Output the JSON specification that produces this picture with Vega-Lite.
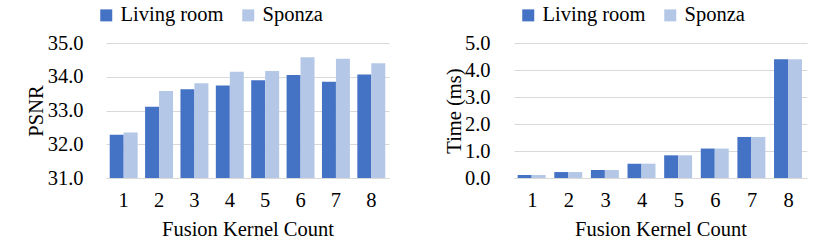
{
  "$schema": "https://vega.github.io/schema/vega-lite/v6.json",
  "padding": {"left": 26, "top": 5, "right": 5, "bottom": 5},
  "datasets": {
    "psnr": [
      {"k": 1, "series": "Living room", "v": 32.28},
      {"k": 1, "series": "Sponza", "v": 32.35},
      {"k": 2, "series": "Living room", "v": 33.11},
      {"k": 2, "series": "Sponza", "v": 33.58},
      {"k": 3, "series": "Living room", "v": 33.63},
      {"k": 3, "series": "Sponza", "v": 33.81},
      {"k": 4, "series": "Living room", "v": 33.74},
      {"k": 4, "series": "Sponza", "v": 34.15},
      {"k": 5, "series": "Living room", "v": 33.90},
      {"k": 5, "series": "Sponza", "v": 34.17},
      {"k": 6, "series": "Living room", "v": 34.05},
      {"k": 6, "series": "Sponza", "v": 34.58},
      {"k": 7, "series": "Living room", "v": 33.85},
      {"k": 7, "series": "Sponza", "v": 34.53},
      {"k": 8, "series": "Living room", "v": 34.07},
      {"k": 8, "series": "Sponza", "v": 34.40}
    ],
    "time": [
      {"k": 1, "series": "Living room", "v": 0.11},
      {"k": 1, "series": "Sponza", "v": 0.11},
      {"k": 2, "series": "Living room", "v": 0.22},
      {"k": 2, "series": "Sponza", "v": 0.22},
      {"k": 3, "series": "Living room", "v": 0.30},
      {"k": 3, "series": "Sponza", "v": 0.30},
      {"k": 4, "series": "Living room", "v": 0.53},
      {"k": 4, "series": "Sponza", "v": 0.53},
      {"k": 5, "series": "Living room", "v": 0.84},
      {"k": 5, "series": "Sponza", "v": 0.84},
      {"k": 6, "series": "Living room", "v": 1.09},
      {"k": 6, "series": "Sponza", "v": 1.09},
      {"k": 7, "series": "Living room", "v": 1.52},
      {"k": 7, "series": "Sponza", "v": 1.52},
      {"k": 8, "series": "Living room", "v": 4.40},
      {"k": 8, "series": "Sponza", "v": 4.40}
    ]
  },
  "config": {
    "font": "Liberation Serif",
    "view": {"stroke": null},
    "axis": {
      "labelFont": "Liberation Serif",
      "titleFont": "Liberation Serif",
      "labelFontSize": 20.5,
      "titleFontSize": 20.5,
      "titleFontWeight": "normal",
      "labelColor": "#000000",
      "titleColor": "#000000",
      "ticks": false,
      "gridColor": "#d9d9d9",
      "domainColor": "#d9d9d9"
    },
    "legend": {
      "labelFont": "Liberation Serif",
      "labelFontSize": 20.5,
      "labelColor": "#000000",
      "symbolType": "square",
      "symbolSize": 144,
      "symbolStrokeWidth": 0,
      "columnPadding": 14,
      "labelOffset": 4
    }
  },
  "spacing": 55,
  "resolve": {"legend": {"color": "independent"}},
  "hconcat": [
    {
      "width": 283,
      "height": 135,
      "data": {"name": "psnr"},
      "mark": {"type": "bar", "clip": true},
      "encoding": {
        "x": {"field": "k", "type": "ordinal", "scale": {"paddingInner": 0.21, "paddingOuter": 0.105},
          "axis": {"labelAngle": 0, "title": "Fusion Kernel Count", "labelPadding": 12, "titlePadding": 9, "grid": false}},
        "xOffset": {"field": "series", "sort": ["Living room", "Sponza"]},
        "y": {"field": "v", "type": "quantitative", "scale": {"domain": [31, 35], "zero": false, "nice": false},
          "axis": {"values": [31, 32, 33, 34, 35], "format": ".1f", "title": "PSNR", "domain": false, "labelPadding": 23, "titlePadding": 1}},
        "color": {"field": "series", "type": "nominal",
          "scale": {"domain": ["Living room", "Sponza"], "range": ["#4472C4", "#B4C7E7"]},
          "legend": {"orient": "none", "legendX": -10, "legendY": -38, "direction": "horizontal", "title": null}}
      }
    },
    {
      "width": 293,
      "height": 135,
      "data": {"name": "time"},
      "mark": {"type": "bar"},
      "encoding": {
        "x": {"field": "k", "type": "ordinal", "scale": {"paddingInner": 0.2, "paddingOuter": 0.1},
          "axis": {"labelAngle": 0, "title": "Fusion Kernel Count", "labelPadding": 12, "titlePadding": 9, "grid": false}},
        "xOffset": {"field": "series", "sort": ["Living room", "Sponza"]},
        "y": {"field": "v", "type": "quantitative", "scale": {"domain": [0, 5], "nice": false},
          "axis": {"values": [0, 1, 2, 3, 4, 5], "format": ".1f", "title": "Time (ms)", "domain": false, "labelPadding": 24, "titlePadding": 0}},
        "color": {"field": "series", "type": "nominal",
          "scale": {"domain": ["Living room", "Sponza"], "range": ["#4472C4", "#B4C7E7"]},
          "legend": {"orient": "none", "legendX": 4, "legendY": -38, "direction": "horizontal", "title": null}}
      }
    }
  ]
}
